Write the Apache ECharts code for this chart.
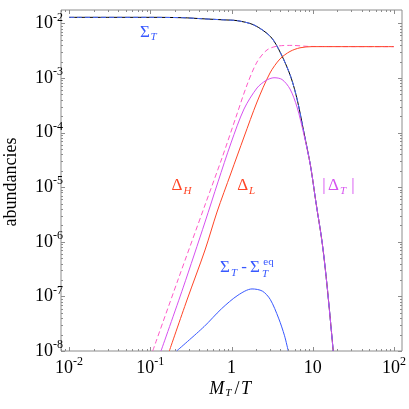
<!DOCTYPE html>
<html><head><meta charset="utf-8">
<script src="https://cdn.jsdelivr.net/npm/echarts@6/dist/echarts.min.js"></script>
<style>html,body{margin:0;padding:0;background:#fff}#c{width:409px;height:409px}</style>
</head><body><div id="c"></div>
<script>
// ---- tick labels ----
const xTickLabels = ['10{s|-2}', '10{s|-1}', '1', '10', '10{s|2}'];   // 10^-2 .. 10^2
const yTickLabels = ['10{s|-8}', '10{s|-7}', '10{s|-6}', '10{s|-5}', '10{s|-4}', '10{s|-3}', '10{s|-2}'];

// ---- data (x = M_T/T, y = abundance) ----
const sigmaX = [0.01, 0.1, 0.25, 0.46, 0.8, 1.18, 1.89, 3.03, 4.04, 5.36, 6.46, 7.82, 9.44, 10.9, 13.1, 15.1, 17.9];
const sigmaY = [1.29e-2, 1.29e-2, 1.27e-2, 1.21e-2, 1.16e-2, 1.12e-2, 9.35e-3, 5.71e-3, 2.83e-3, 1.06e-3, 3.95e-4, 9.84e-5, 2.38e-5, 5.6e-6, 9.5e-7, 1.47e-7, 1.0e-8];

const deltaHX = [0.107, 0.219, 0.472, 0.764, 1.136, 1.552, 2.062, 2.737, 3.739, 5.563, 9.27, 100];
const deltaHY = [1e-8, 2.0e-7, 4.72e-6, 3.43e-5, 1.93e-4, 7.44e-4, 1.96e-3, 3.26e-3, 3.85e-3, 3.95e-3, 3.78e-3, 3.75e-3];

const absDeltaTX = [0.1354, 0.253, 0.472, 0.682, 0.986, 1.426, 2.062, 2.661, 3.339, 4.188, 5.255, 6.41, 7.82, 9.44, 10.9, 13.1, 15.1, 17.9];
const absDeltaTY = [1e-8, 1.43e-7, 2.3e-6, 1.25e-5, 6.45e-5, 2.7e-4, 6.56e-4, 9.0e-4, 1.01e-3, 9.39e-4, 6.29e-4, 2.94e-4, 9.04e-5, 2.38e-5, 5.6e-6, 9.5e-7, 1.47e-7, 1.0e-8];

const deltaLX = [0.1714, 0.283, 0.472, 0.663, 0.986, 1.426, 2.062, 2.981, 3.958, 5.255, 6.98, 9.81, 100];
const deltaLY = [1e-8, 8.6e-8, 7.07e-7, 3.51e-6, 1.82e-5, 8.3e-5, 3.63e-4, 1.235e-3, 2.23e-3, 3.06e-3, 3.57e-3, 3.75e-3, 3.75e-3];

const diffX = [0.211, 0.46, 0.75, 1.2, 1.79, 2.4, 3.0, 3.8, 4.5, 5.0];
const diffY = [1e-8, 2.8e-8, 5.9e-8, 1.05e-7, 1.37e-7, 1.25e-7, 8.8e-8, 4.0e-8, 1.9e-8, 1e-8];

// ---- helpers ----
const L = Math.log10;
const pairs = (xs, ys) => xs.map((x, i) => [L(x), L(ys[i])]);
const XMIN = -2.1, XMAX = 2.1, YMIN = -8, YMAX = -1.755;
const FONT = 'Liberation Serif';
const GRAY = '#8c8c8c';

const chart = echarts.init(document.getElementById('c'), null, {renderer: 'canvas'});

function lineSeries(name, xs, ys, color, dashed, z) {
  return {
    name, type: 'line', xAxisIndex: 0, yAxisIndex: 0, data: pairs(xs, ys),
    showSymbol: false, symbol: 'none', smooth: 0.3, clip: true, z: z || 2,
    lineStyle: {color, width: 1, type: dashed ? [5, 3] : 'solid'}, silent: true
  };
}

// tick marks (log major/minor) through axis coordinates
const tickSeries = {
  type: 'custom', xAxisIndex: 0, yAxisIndex: 0, data: [[0, -5]], silent: true, z: 10,
  renderItem: function (params, api) {
    const children = [];
    const p0 = api.coord([XMIN, YMIN]);
    const p1 = api.coord([XMAX, YMAX]);
    const left = p0[0], bottom = p0[1], right = p1[0], top = p1[1];
    const st = {stroke: GRAY, lineWidth: 1};
    for (let n = -3; n <= 2; n++) {
      for (let k = 1; k <= 9; k++) {
        const v = n + L(k);
        if (v < XMIN || v > XMAX) continue;
        const len = k === 1 ? 4 : 2;
        const px = Math.round(api.coord([v, YMIN])[0]) + 0.5;
        children.push({type: 'line', shape: {x1: px, y1: bottom, x2: px, y2: bottom - len}, style: st});
        children.push({type: 'line', shape: {x1: px, y1: top, x2: px, y2: top + len}, style: st});
      }
    }
    for (let n = -9; n <= -1; n++) {
      for (let k = 1; k <= 9; k++) {
        const v = n + L(k);
        if (v < YMIN || v > YMAX) continue;
        const len = k === 1 ? 4 : 2;
        const py = Math.round(api.coord([XMIN, v])[1]) + 0.5;
        children.push({type: 'line', shape: {x1: left, y1: py, x2: left + len, y2: py}, style: st});
        children.push({type: 'line', shape: {x1: right, y1: py, x2: right - len, y2: py}, style: st});
      }
    }
    return {type: 'group', children};
  }
};

const richSup = {s: {fontFamily: FONT, fontSize: 12, lineHeight: 12, color: '#000', verticalAlign: 'top'}};

function txt(s, x, y, color, size, italic, align) {
  return {type: 'text', x, y, z: 100, silent: true,
    style: {text: s, fill: color, font: (italic ? 'italic ' : '') + size + 'px "' + FONT + '"',
      textAlign: align || 'center', textVerticalAlign: 'middle'}};
}
const BLUE = '#3858ff', RED = '#ff4526', MAG = '#d651f0';

const option = {
  animation: false,
  backgroundColor: '#fff',
  grid: [
    {left: 61, top: 10, width: 341, height: 341, show: true, borderColor: GRAY, borderWidth: 1, backgroundColor: 'transparent'},
    {left: 61 + 0.1 * 341 / 4.2, width: 4 * 341 / 4.2, top: 10 + (YMAX + 2) * 341 / (YMAX - YMIN), height: 6 * 341 / (YMAX - YMIN), show: false}
  ],
  xAxis: [
    {gridIndex: 0, type: 'value', min: XMIN, max: XMAX, axisLine: {show: false}, axisTick: {show: false}, axisLabel: {show: false}, splitLine: {show: false}},
    {gridIndex: 1, type: 'value', min: -2, max: 2, interval: 1, axisLine: {show: false}, axisTick: {show: false}, splitLine: {show: false},
      axisLabel: {margin: 5, fontFamily: FONT, fontSize: 18, lineHeight: 24, color: '#000', formatter: v => xTickLabels[Math.round(v) + 2], rich: richSup}}
  ],
  yAxis: [
    {gridIndex: 0, type: 'value', min: YMIN, max: YMAX, axisLine: {show: false}, axisTick: {show: false}, axisLabel: {show: false}, splitLine: {show: false}},
    {gridIndex: 1, type: 'value', min: -8, max: -2, interval: 1, axisLine: {show: false}, axisTick: {show: false}, splitLine: {show: false},
      axisLabel: {margin: 6, fontFamily: FONT, fontSize: 18, lineHeight: 24, color: '#000', formatter: v => yTickLabels[Math.round(v) + 8], rich: richSup}}
  ],
  series: [
    lineSeries('Sigma_T', sigmaX, sigmaY, '#000', false, 2),
    lineSeries('Sigma_T eq', sigmaX, sigmaY, '#4a6cff', true, 3),
    lineSeries('Delta_H', deltaHX, deltaHY, '#ff5ac8', true, 4),
    lineSeries('|Delta_T|', absDeltaTX, absDeltaTY, MAG, false, 5),
    lineSeries('Delta_L', deltaLX, deltaLY, RED, false, 4),
    lineSeries('Sigma_T - Sigma_T^eq', diffX, diffY, BLUE, false, 4),
    tickSeries
  ],
  graphic: [
    // axis titles
    {type: 'text', x: 11, y: 182, rotation: Math.PI / 2, z: 100, silent: true,
      style: {text: 'abundancies', fill: '#000', font: '18px "' + FONT + '"', textAlign: 'center', textVerticalAlign: 'middle'}},
    txt('M', 216.7, 389, '#000', 18, true),
    txt('T', 228.3, 393, '#000', 11, true),
    txt('/', 237, 389, '#000', 18, false),
    txt('T', 246, 389, '#000', 18, true),
    // curve labels
    txt('Σ', 145, 33, BLUE, 17, false),
    txt('T', 153.5, 37, BLUE, 11, true),
    txt('Δ', 177, 186, RED, 17, false),
    txt('H', 187.5, 191, RED, 11, true),
    txt('Δ', 242.8, 186, RED, 17, false),
    txt('L', 252, 191, RED, 11, true),
    txt('|', 324, 186, MAG, 17, false),
    txt('Δ', 333.5, 186, MAG, 17, false),
    txt('T', 343, 191, MAG, 11, true),
    txt('|', 353, 186, MAG, 17, false),
    txt('Σ', 225, 268, BLUE, 17, false),
    txt('T', 234, 273, BLUE, 11, true),
    txt('-', 244, 268, BLUE, 17, false),
    txt('Σ', 255, 268, BLUE, 17, false),
    txt('eq', 268.5, 262, BLUE, 11, false),
    txt('T', 265, 274, BLUE, 11, true)
  ]
};
chart.setOption(option);
</script></body></html>
